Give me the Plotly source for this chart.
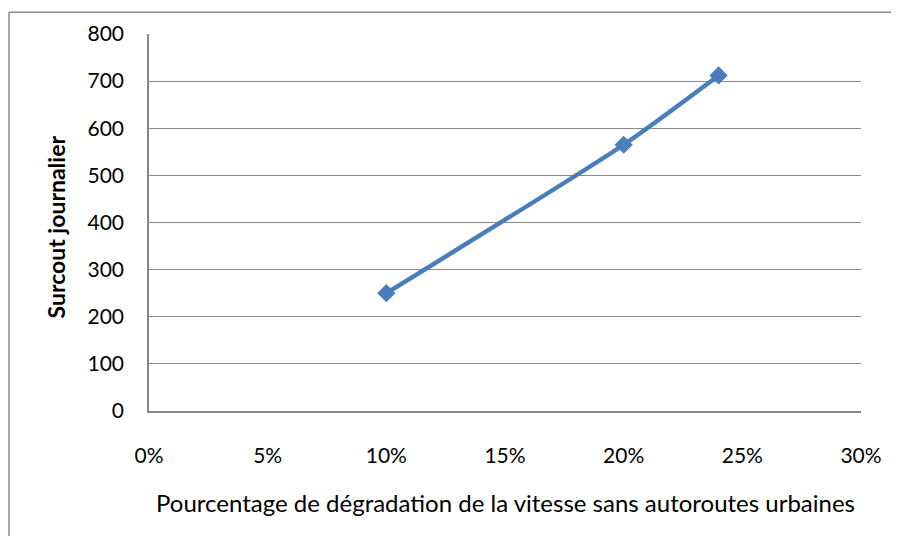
import plotly.graph_objects as go

x_pct = [0.10, 0.20, 0.24]
surcout = [250, 565, 712]
x_ticks = [0, 0.05, 0.10, 0.15, 0.20, 0.25, 0.30]
x_tick_labels = ["0%", "5%", "10%", "15%", "20%", "25%", "30%"]
y_ticks = [0, 100, 200, 300, 400, 500, 600, 700, 800]

# The page body adds an 8px offset, so the figure is laid out smaller.
OFF = 8
W, H = 899 - OFF, 544 - 2 * OFF
plot_left, plot_right, plot_top, plot_bottom = 149, 861, 31, 411  # screen pixels
L = plot_left - OFF
R = W - (plot_right - OFF)
T = plot_top - OFF
B = H - (plot_bottom - OFF)
pw, ph = W - L - R, H - T - B

def px_to_paper_x(px):
    return (px - OFF - L) / pw

def px_to_paper_y(py):
    return (H - B - (py - OFF)) / ph

font_family = "Lato, 'Open Sans', sans-serif"

fig = go.Figure()
fig.add_trace(go.Scatter(
    x=x_pct, y=surcout, mode="lines+markers",
    line=dict(color="#4A7EBB", width=4.5, shape="spline", smoothing=0.6),
    marker=dict(symbol="diamond", size=14, color="#4A7EBB"),
    showlegend=False,
))

border = dict(color="#8C8C8C", width=1.5)
fig.update_layout(
    width=W, height=H,
    margin=dict(l=L, r=R, t=T, b=B),
    paper_bgcolor="white", plot_bgcolor="white",
    font=dict(family=font_family, size=21, color="#000000"),
    xaxis=dict(
        range=[0, 0.30], tickvals=x_ticks, ticktext=x_tick_labels,
        showgrid=False, zeroline=False, showline=True, linecolor="#868686",
        linewidth=1.5, ticks="", ticklabelstandoff=25,
        tickfont=dict(size=21, family=font_family),
    ),
    yaxis=dict(
        range=[0, 800], tickvals=y_ticks,
        showgrid=True, gridcolor="#8A8A8A", gridwidth=1.3,
        zeroline=False, showline=True, linecolor="#868686", linewidth=1.5,
        ticks="", ticklabelstandoff=19,
        tickfont=dict(size=21, family=font_family),
    ),
    annotations=[
        dict(text="Pourcentage de dégradation de la vitesse sans autoroutes urbaines",
             x=px_to_paper_x(505), y=px_to_paper_y(503), xref="paper", yref="paper",
             showarrow=False, font=dict(size=24, family=font_family),
             xanchor="center", yanchor="middle"),
        dict(text="<b>Surcout journalier</b>",
             x=px_to_paper_x(56), y=px_to_paper_y(225), xref="paper", yref="paper",
             showarrow=False, textangle=-90, font=dict(size=23, family=font_family),
             xanchor="center", yanchor="middle"),
    ],
    shapes=[
        dict(type="line", xref="paper", yref="paper",
             x0=px_to_paper_x(9), x1=px_to_paper_x(930),
             y0=px_to_paper_y(9), y1=px_to_paper_y(9), line=border, layer="below"),
        dict(type="line", xref="paper", yref="paper",
             x0=px_to_paper_x(9), x1=px_to_paper_x(9),
             y0=px_to_paper_y(9), y1=px_to_paper_y(600), line=border, layer="below"),
    ],
)

fig.write_html("out.html")
